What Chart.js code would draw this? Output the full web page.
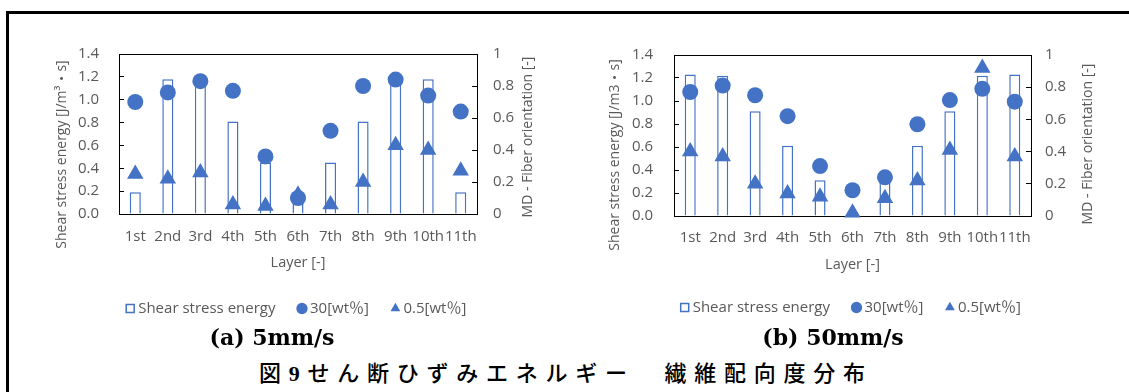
<!DOCTYPE html>
<html>
<head>
<meta charset="utf-8">
<script src="https://cdn.jsdelivr.net/npm/chart.js@4.4.1/dist/chart.umd.min.js"></script>
<style>
  html, body { margin: 0; padding: 0; background: #fff; }
  body { width: 1129px; height: 392px; position: relative; overflow: hidden; }
  .frame { position: absolute; left: 6px; top: 11px; width: 1200px; height: 500px;
           border-left: 3px solid #000; border-top: 3px solid #000; }
  canvas { position: absolute; top: 20px; }
  #chartA { left: 0; }
  #chartB { left: 560px; }
  .sub { position: absolute; top: 324px; transform: translateX(-50%); white-space: nowrap;
         font: bold 22px "DejaVu Serif"; line-height: 26px; color: #000; }
  .cap { position: absolute; left: 259px; top: 358px; white-space: nowrap;
         font-family: "Noto Sans CJK JP", "Noto Sans CJK SC", sans-serif; font-size: 22px;
         font-weight: 500; line-height: 26px; letter-spacing: 7.75px; color: #000; }
  .cap b { font-family: "Liberation Serif"; font-weight: bold; }
</style>
</head>
<body>
<div class="frame"></div>
<canvas id="chartA" width="596" height="310"></canvas>
<canvas id="chartB" width="585" height="310"></canvas>
<div class="sub" style="left:272px">(a) 5mm/s</div>
<div class="sub" style="left:833px">(b) 50mm/s</div>
<div class="cap">図<b>9</b>せん断ひずみエネルギー　繊維配向度分布</div>

<script>
const layers = ['1st', '2nd', '3rd', '4th', '5th', '6th', '7th', '8th', '9th', '10th', '11th'];

// (a) 5mm/s
const energyA = [0.19, 1.18, 1.15, 0.81, 0.45, 0.09, 0.45, 0.81, 1.15, 1.18, 0.19];
const fiber30A = [0.70, 0.76, 0.83, 0.77, 0.36, 0.10, 0.52, 0.80, 0.84, 0.74, 0.64];
const fiber05A = [0.25, 0.22, 0.26, 0.06, 0.05, 0.12, 0.06, 0.20, 0.43, 0.40, 0.27];

// (b) 50mm/s
const energyB = [1.23, 1.22, 0.91, 0.61, 0.31, 0.00, 0.31, 0.61, 0.91, 1.22, 1.23];
const fiber30B = [0.77, 0.81, 0.75, 0.62, 0.31, 0.16, 0.24, 0.57, 0.72, 0.79, 0.71];
const fiber05B = [0.40, 0.37, 0.20, 0.14, 0.12, 0.02, 0.11, 0.22, 0.41, 0.92, 0.37];

const BLUE = '#4472C4';
const GREY = '#595959';
const FONT = "'Open Sans', 'Noto Sans CJK JP', sans-serif";

// black box round the plot area
const plotFrame = {
  id: 'plotFrame',
  beforeDatasetsDraw(chart) {
    const {ctx, chartArea: a} = chart;
    ctx.save();
    ctx.strokeStyle = '#000';
    ctx.lineWidth = 1;
    ctx.strokeRect(Math.round(a.left) + 0.5, Math.round(a.top) + 0.5,
                   Math.round(a.width), Math.round(a.height));
    ctx.restore();
  }
};

// both y titles read bottom to top, as in Excel
const sideTitles = {
  id: 'sideTitles',
  afterDraw(chart, args, opts) {
    const {ctx, chartArea: a} = chart;
    ctx.save();
    ctx.fillStyle = GREY;
    ctx.font = '14px ' + FONT;
    ctx.textAlign = 'center';
    ctx.textBaseline = 'middle';
    for (const t of opts.items) {
      const s = chart.scales[t.scale];
      ctx.save();
      ctx.translate(s.left + t.dx, (a.top + a.bottom) / 2 + t.dy);
      ctx.rotate(-Math.PI / 2);
      ctx.fillText(t.text, 0, 0);
      ctx.restore();
    }
    ctx.restore();
  }
};

function makeChart(id, energy, f30, f05, g) {
  const tickFont = {family: FONT, size: 15};
  return new Chart(document.getElementById(id), {
    type: 'bar',
    data: {
      labels: layers,
      datasets: [
        {
          label: 'Shear stress energy',
          data: energy,
          yAxisID: 'y',
          backgroundColor: '#FFFFFF',
          borderColor: BLUE,
          borderWidth: 1.5,
          barPercentage: 0.34,
          categoryPercentage: 1,
          pointStyle: 'rect',
          order: 3
        },
        {
          type: 'line',
          label: '30[wt％]',
          data: f30,
          yAxisID: 'y1',
          showLine: false,
          pointStyle: 'circle',
          pointRadius: 8,
          pointBorderWidth: 0,
          backgroundColor: BLUE,
          borderColor: BLUE,
          clip: false,
          order: 1
        },
        {
          type: 'line',
          label: '0.5[wt％]',
          data: f05,
          yAxisID: 'y1',
          showLine: false,
          pointStyle: 'triangle',
          pointRadius: 9.5,
          pointBorderWidth: 0,
          backgroundColor: BLUE,
          borderColor: BLUE,
          clip: false,
          order: 2
        }
      ]
    },
    options: {
      responsive: false,
      animation: false,
      events: [],
      layout: {padding: {top: 18, bottom: g.padBottom, left: 0, right: 0}},
      plugins: {
        tooltip: {enabled: false},
        legend: {
          position: 'bottom',
          labels: {
            sort: (a, b) => a.datasetIndex - b.datasetIndex,
            usePointStyle: true,
            boxWidth: 1,
            boxHeight: 8,
            padding: 26,
            color: GREY,
            font: tickFont
          }
        },
        sideTitles: {items: g.titles}
      },
      scales: {
        x: {
          offset: true,
          grid: {display: false, drawTicks: false},
          border: {display: false},
          ticks: {color: GREY, font: tickFont, padding: g.xPad, autoSkip: false, maxRotation: 0},
          title: {display: true, text: 'Layer [-]', color: GREY, font: {family: FONT, size: 14.5},
                  padding: {top: 0, bottom: g.titlePad}},
          afterFit: s => { s.height = g.xHeight; }
        },
        y: {
          position: 'left',
          min: 0,
          max: 1.4,
          grid: {drawOnChartArea: false, drawTicks: true, tickLength: -5, color: '#000'},
          border: {display: false},
          ticks: {stepSize: 0.2, padding: g.yPad, color: GREY, font: tickFont,
                  callback: v => v.toFixed(1)},
          afterFit: s => { s.width = g.leftW; }
        },
        y1: {
          position: 'right',
          min: 0,
          max: 1,
          grid: {drawOnChartArea: false, drawTicks: true, tickLength: -5, color: '#000'},
          border: {display: false},
          ticks: {stepSize: 0.2, padding: g.y1Pad, color: GREY, font: tickFont,
                  callback: v => String(+v.toFixed(1))},
          afterFit: s => { s.width = g.rightW; }
        }
      }
    },
    plugins: [plotFrame, sideTitles]
  });
}

makeChart('chartA', energyA, fiber30A, fiber05A, {
  padBottom: 4, xHeight: 61, xPad: 14, titlePad: 3.6,
  leftW: 119, rightW: 119, yPad: 25, y1Pad: 21,
  titles: [
    {scale: 'y', dx: 62, dy: 20.5, text: 'Shear stress energy [J/m³・s]'},
    {scale: 'y1', dx: 51, dy: 3, text: 'MD - Fiber orientation [-]'}
  ]
});

makeChart('chartB', energyB, fiber30B, fiber05B, {
  padBottom: 5, xHeight: 58, xPad: 13, titlePad: 0,
  leftW: 114, rightW: 114, yPad: 26, y1Pad: 19,
  titles: [
    {scale: 'y', dx: 55, dy: 19.5, text: 'Shear stress energy [J/m3・s]'},
    {scale: 'y1', dx: 57, dy: 8.5, text: 'MD - Fiber orientation [-]'}
  ]
});
</script>
</body>
</html>
